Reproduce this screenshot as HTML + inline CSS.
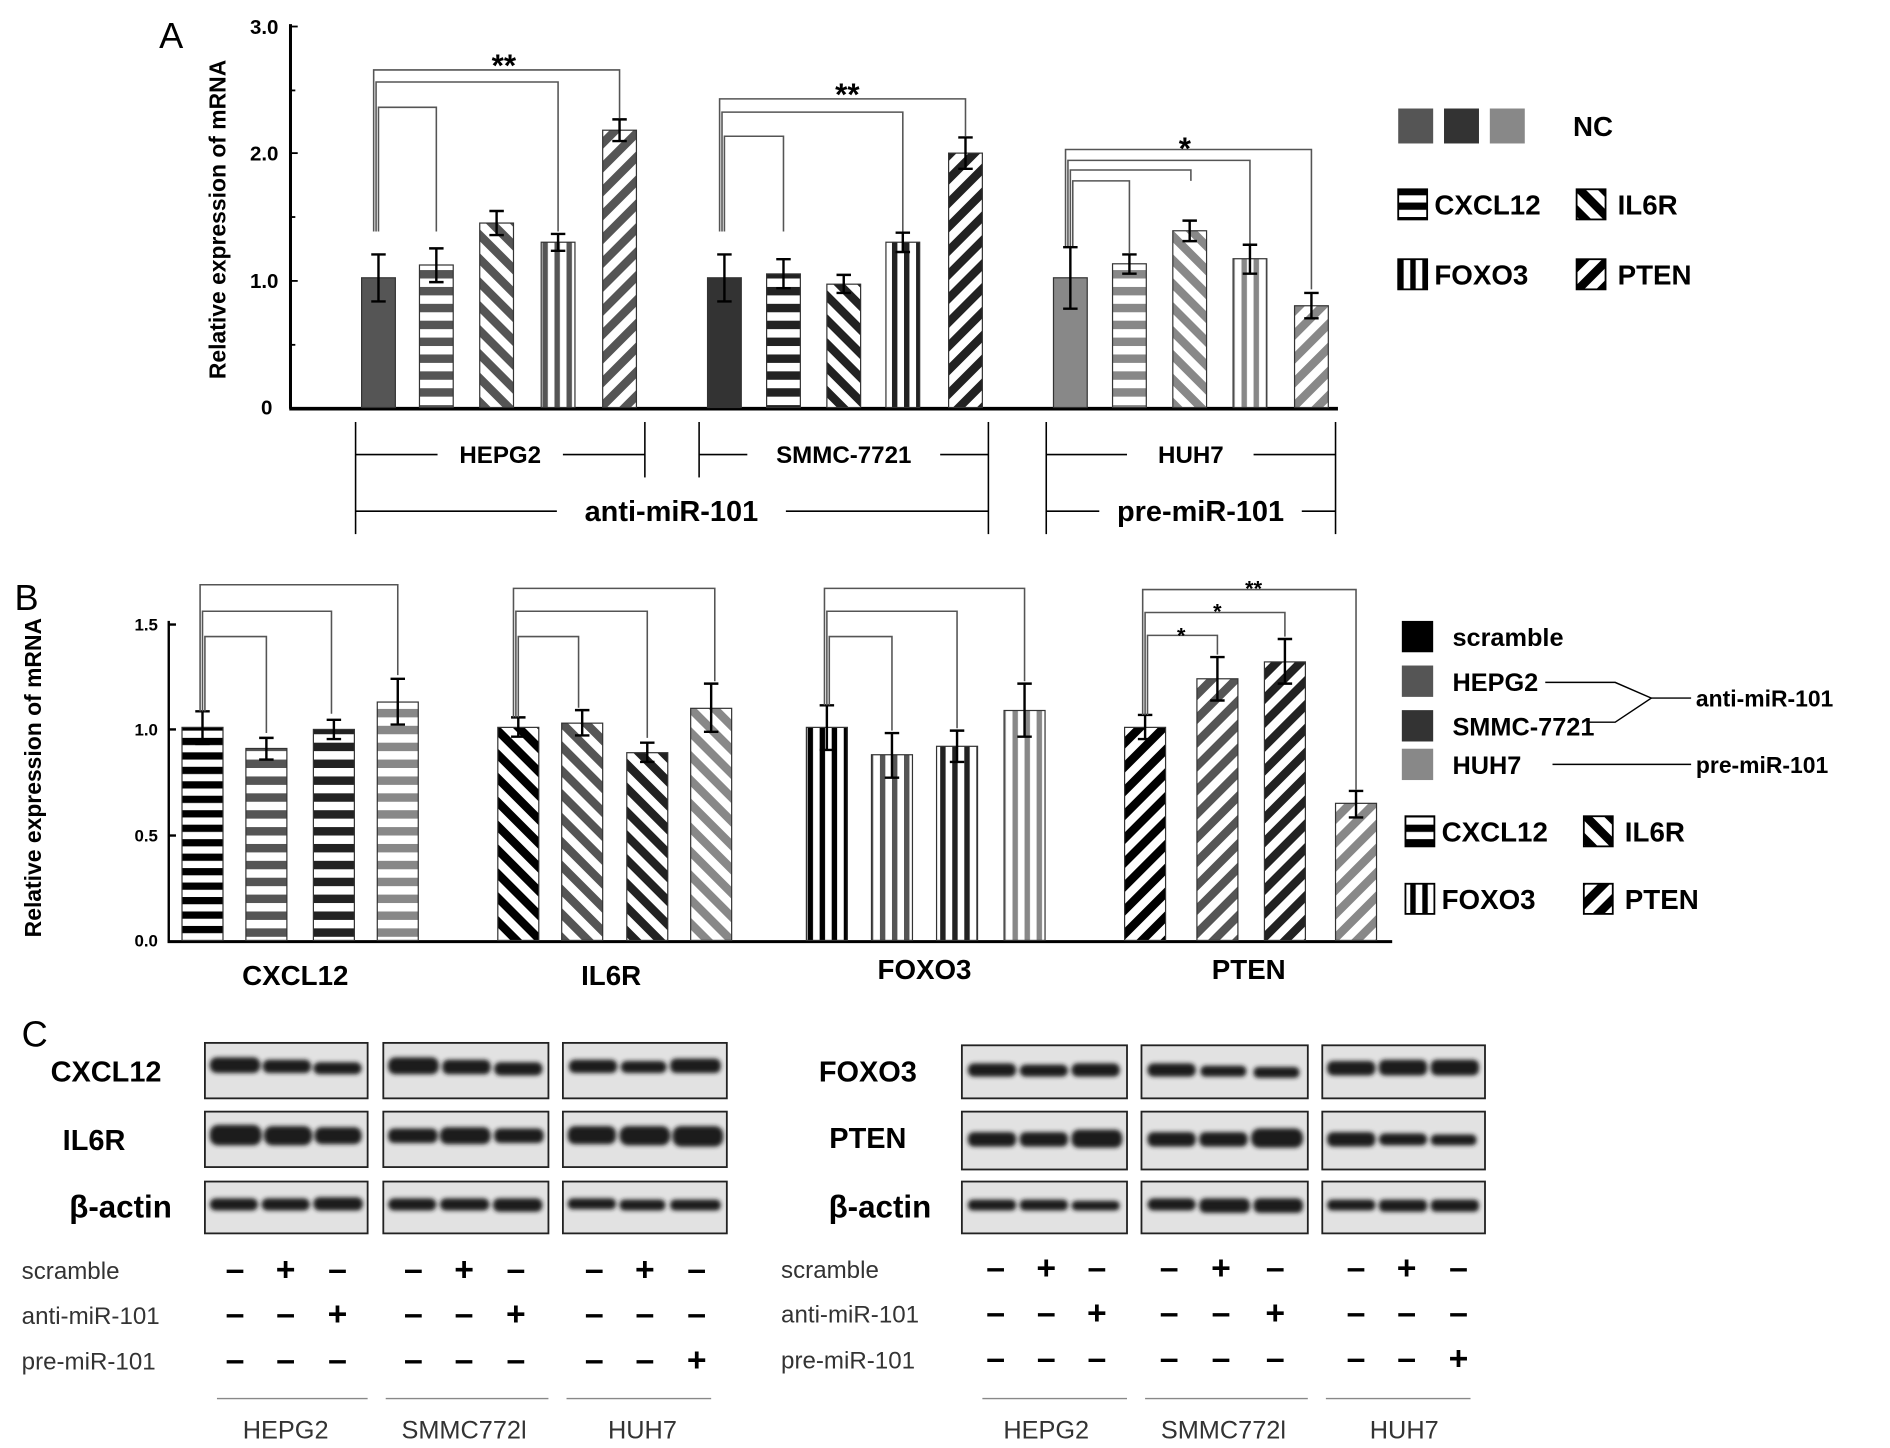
<!DOCTYPE html>
<html><head><meta charset="utf-8"><style>
html,body{margin:0;padding:0;background:#fff}
svg{display:block}
text{font-family:"Liberation Sans",sans-serif}
.b{font-weight:bold}
</style></head><body>
<svg width="1890" height="1448" viewBox="0 0 1568 1201" preserveAspectRatio="none" xmlns="http://www.w3.org/2000/svg">
<defs>
<filter id="bl"><feGaussianBlur stdDeviation="1.8"/></filter>
<pattern id="h1" patternUnits="userSpaceOnUse" width="10" height="14"><rect width="10" height="14" fill="#fff"/><rect width="10" height="7" fill="#555"/></pattern>
<pattern id="h2" patternUnits="userSpaceOnUse" width="10" height="14"><rect width="10" height="14" fill="#fff"/><rect width="10" height="7" fill="#222"/></pattern>
<pattern id="h3" patternUnits="userSpaceOnUse" width="10" height="14"><rect width="10" height="14" fill="#fff"/><rect width="10" height="7" fill="#888"/></pattern>
<pattern id="h0" patternUnits="userSpaceOnUse" width="10" height="12"><rect width="10" height="12" fill="#fff"/><rect width="10" height="6" fill="#000"/></pattern>
<pattern id="v1" patternUnits="userSpaceOnUse" width="10" height="10"><rect width="10" height="10" fill="#fff"/><rect width="4.5" height="10" fill="#555"/></pattern>
<pattern id="v2" patternUnits="userSpaceOnUse" width="10" height="10"><rect width="10" height="10" fill="#fff"/><rect width="4.5" height="10" fill="#222"/></pattern>
<pattern id="v3" patternUnits="userSpaceOnUse" width="10" height="10"><rect width="10" height="10" fill="#fff"/><rect width="4.5" height="10" fill="#888"/></pattern>
<pattern id="v0" patternUnits="userSpaceOnUse" width="10" height="10"><rect width="10" height="10" fill="#fff"/><rect width="4.5" height="10" fill="#000"/></pattern>
<pattern id="k1" patternUnits="userSpaceOnUse" width="14" height="14" patternTransform="rotate(-45)"><rect width="14" height="14" fill="#fff"/><rect width="7" height="14" fill="#555"/></pattern>
<pattern id="k2" patternUnits="userSpaceOnUse" width="14" height="14" patternTransform="rotate(-45)"><rect width="14" height="14" fill="#fff"/><rect width="7" height="14" fill="#222"/></pattern>
<pattern id="k3" patternUnits="userSpaceOnUse" width="14" height="14" patternTransform="rotate(-45)"><rect width="14" height="14" fill="#fff"/><rect width="7" height="14" fill="#888"/></pattern>
<pattern id="k0" patternUnits="userSpaceOnUse" width="14" height="14" patternTransform="rotate(-45)"><rect width="14" height="14" fill="#fff"/><rect width="7" height="14" fill="#000"/></pattern>
<pattern id="s1" patternUnits="userSpaceOnUse" width="14" height="14" patternTransform="rotate(45)"><rect width="14" height="14" fill="#fff"/><rect width="7" height="14" fill="#555"/></pattern>
<pattern id="s2" patternUnits="userSpaceOnUse" width="14" height="14" patternTransform="rotate(45)"><rect width="14" height="14" fill="#fff"/><rect width="7" height="14" fill="#222"/></pattern>
<pattern id="s3" patternUnits="userSpaceOnUse" width="14" height="14" patternTransform="rotate(45)"><rect width="14" height="14" fill="#fff"/><rect width="7" height="14" fill="#888"/></pattern>
<pattern id="s0" patternUnits="userSpaceOnUse" width="14" height="14" patternTransform="rotate(45)"><rect width="14" height="14" fill="#fff"/><rect width="7" height="14" fill="#000"/></pattern>
</defs>

<!-- ===== Panel A ===== -->
<text x="132" y="40" font-size="30">A</text>
<text x="187" y="182" font-size="19" class="b" transform="rotate(-90 187 182)" text-anchor="middle">Relative expression of mRNA</text>
<g font-size="17" class="b" text-anchor="end">
<text x="231" y="28">3.0</text><text x="231" y="133">2.0</text><text x="231" y="239">1.0</text><text x="226" y="344">0</text>
</g>
<g stroke="#000" stroke-width="2.5">
<line x1="241" y1="20" x2="241" y2="339"/><line x1="240" y1="339" x2="1110" y2="339" stroke-width="3"/>
</g>
<g stroke="#000" stroke-width="1.5">
<line x1="241" y1="22" x2="247" y2="22"/><line x1="241" y1="127" x2="247" y2="127"/><line x1="241" y1="233" x2="247" y2="233"/>
<line x1="241" y1="75" x2="245" y2="75"/><line x1="241" y1="180" x2="245" y2="180"/><line x1="241" y1="286" x2="245" y2="286"/>
</g>
<g stroke="#333" stroke-width="1">
<rect x="300" y="230.4" width="28" height="107.6" fill="#555"/>
<rect x="348" y="219.8" width="28" height="118.2" fill="url(#h1)"/>
<rect x="398" y="185" width="28" height="153" fill="url(#k1)"/>
<rect x="449" y="200.9" width="28" height="137.1" fill="url(#v1)"/>
<rect x="500" y="108" width="28" height="230" fill="url(#s1)"/>
<rect x="587" y="230.4" width="28" height="107.6" fill="#333"/>
<rect x="636" y="227.2" width="28" height="110.8" fill="url(#h2)"/>
<rect x="686" y="235.7" width="28" height="102.3" fill="url(#k2)"/>
<rect x="735" y="200.9" width="28" height="137.1" fill="url(#v2)"/>
<rect x="787" y="127" width="28" height="211" fill="url(#s2)"/>
<rect x="874" y="230.4" width="28" height="107.6" fill="#888"/>
<rect x="923" y="218.8" width="28" height="119.2" fill="url(#h3)"/>
<rect x="973" y="191.4" width="28" height="146.6" fill="url(#k3)"/>
<rect x="1023" y="214.6" width="28" height="123.4" fill="url(#v3)"/>
<rect x="1074" y="253.6" width="28" height="84.4" fill="url(#s3)"/>
</g>
<g stroke="#000" stroke-width="2" fill="none">
<path d="M314 211V250M308 211H320M308 250H320"/>
<path d="M362 206V234M356 206H368M356 234H368"/>
<path d="M412 175V195M406 175H418M406 195H418"/>
<path d="M463 194V208M457 194H469M457 208H469"/>
<path d="M514 99V117M508 99H520M508 117H520"/>
<path d="M601 211V250M595 211H607M595 250H607"/>
<path d="M650 215V239M644 215H656M644 239H656"/>
<path d="M700 228V243M694 228H706M694 243H706"/>
<path d="M749 193V209M743 193H755M743 209H755"/>
<path d="M801 114V140M795 114H807M795 140H807"/>
<path d="M888 205V256M882 205H894M882 256H894"/>
<path d="M937 211V227M931 211H943M931 227H943"/>
<path d="M987 183V200M981 183H993M981 200H993"/>
<path d="M1037 203V227M1031 203H1043M1031 227H1043"/>
<path d="M1088 243V264M1082 243H1094M1082 264H1094"/>
</g>
<g stroke="#555" stroke-width="1.3" fill="none">
<path d="M310 192V58H514V98"/><path d="M312 192V68H463V192"/><path d="M314 192V89H362V192"/>
<path d="M597 192V82H801V113"/><path d="M599 192V93H749V192"/><path d="M601 192V113H650V192"/>
<path d="M884 204V124H1088V240"/><path d="M886 204V133H1037V202"/><path d="M888 204V141H988V150"/><path d="M890 204V150H937V210"/>
</g>
<g font-size="26" class="b" text-anchor="middle">
<text x="418" y="63">**</text><text x="703" y="87">**</text><text x="983" y="132">*</text>
</g>
<g stroke="#000" stroke-width="1.3">
<line x1="295" y1="350" x2="295" y2="443"/><line x1="535" y1="350" x2="535" y2="396"/>
<line x1="580" y1="350" x2="580" y2="396"/><line x1="820" y1="350" x2="820" y2="443"/>
<line x1="868" y1="350" x2="868" y2="443"/><line x1="1108" y1="350" x2="1108" y2="443"/>
<line x1="295" y1="377" x2="363" y2="377"/><line x1="467" y1="377" x2="535" y2="377"/>
<line x1="580" y1="377" x2="620" y2="377"/><line x1="780" y1="377" x2="820" y2="377"/>
<line x1="868" y1="377" x2="935" y2="377"/><line x1="1040" y1="377" x2="1108" y2="377"/>
<line x1="295" y1="424" x2="462" y2="424"/><line x1="652" y1="424" x2="820" y2="424"/>
<line x1="868" y1="424" x2="912" y2="424"/><line x1="1080" y1="424" x2="1108" y2="424"/>
</g>
<g font-size="20" class="b" text-anchor="middle">
<text x="415" y="384">HEPG2</text><text x="700" y="384">SMMC-7721</text><text x="988" y="384">HUH7</text>
</g>
<g font-size="24" class="b" text-anchor="middle">
<text x="557" y="432">anti-miR-101</text><text x="996" y="432">pre-miR-101</text>
</g>
<rect x="1160" y="90" width="29" height="29" fill="#555"/><rect x="1198" y="90" width="29" height="29" fill="#333"/><rect x="1236" y="90" width="29" height="29" fill="#888"/>
<text x="1305" y="113" font-size="23" class="b">NC</text>
<g stroke="#000" stroke-width="1.5">
<rect x="1160" y="157" width="24" height="25" fill="url(#h0)"/>
<rect x="1308" y="157" width="24" height="25" fill="url(#k0)"/>
<rect x="1160" y="215" width="24" height="25" fill="url(#v0)"/>
<rect x="1308" y="215" width="24" height="25" fill="url(#s0)"/>
</g>
<g font-size="23" class="b">
<text x="1190" y="178">CXCL12</text><text x="1342" y="178">IL6R</text>
<text x="1190" y="236">FOXO3</text><text x="1342" y="236">PTEN</text>
</g>

<!-- ===== Panel B ===== -->
<text x="12" y="506" font-size="30">B</text>
<text x="34" y="645" font-size="19" class="b" transform="rotate(-90 34 645)" text-anchor="middle">Relative expression of mRNA</text>
<g font-size="14" class="b" text-anchor="end">
<text x="131" y="523">1.5</text><text x="131" y="610">1.0</text><text x="131" y="698">0.5</text><text x="131" y="785">0.0</text>
</g>
<g stroke="#000" stroke-width="2">
<line x1="140" y1="515" x2="140" y2="781"/><line x1="139" y1="781" x2="1155" y2="781" stroke-width="2.5"/>
<line x1="140" y1="518" x2="146" y2="518"/><line x1="140" y1="605" x2="146" y2="605"/><line x1="140" y1="693" x2="146" y2="693"/>
</g>
<g stroke="#333" stroke-width="1">
<rect x="151" y="603.3" width="34" height="176.7" fill="url(#h0)"/>
<rect x="204" y="620.8" width="34" height="159.2" fill="url(#h1)"/>
<rect x="260" y="605" width="34" height="175" fill="url(#h2)"/>
<rect x="313" y="582.3" width="34" height="197.7" fill="url(#h3)"/>
<rect x="413" y="603.3" width="34" height="176.7" fill="url(#k0)"/>
<rect x="466" y="599.8" width="34" height="180.2" fill="url(#k1)"/>
<rect x="520" y="624.3" width="34" height="155.7" fill="url(#k2)"/>
<rect x="573" y="587.5" width="34" height="192.5" fill="url(#k3)"/>
<rect x="669" y="603.3" width="34" height="176.7" fill="url(#v0)"/>
<rect x="723" y="626" width="34" height="154" fill="url(#v1)"/>
<rect x="777" y="619" width="34" height="161" fill="url(#v2)"/>
<rect x="833" y="589.3" width="34" height="190.7" fill="url(#v3)"/>
<rect x="933" y="603.3" width="34" height="176.7" fill="url(#s0)"/>
<rect x="993" y="563" width="34" height="217" fill="url(#s1)"/>
<rect x="1049" y="549" width="34" height="231" fill="url(#s2)"/>
<rect x="1108" y="666.3" width="34" height="113.7" fill="url(#s3)"/>
</g>
<g stroke="#000" stroke-width="2" fill="none">
<path d="M168 590V617M162 590H174M162 617H174"/>
<path d="M221 612V630M215 612H227M215 630H227"/>
<path d="M277 597V613M271 597H283M271 613H283"/>
<path d="M330 563V601M324 563H336M324 601H336"/>
<path d="M430 595V611M424 595H436M424 611H436"/>
<path d="M483 589V610M477 589H489M477 610H489"/>
<path d="M537 616V632M531 616H543M531 632H543"/>
<path d="M590 567V607M584 567H596M584 607H596"/>
<path d="M686 585V622M680 585H692M680 622H692"/>
<path d="M740 608V645M734 608H746M734 645H746"/>
<path d="M794 606V632M788 606H800M788 632H800"/>
<path d="M850 567V611M844 567H856M844 611H856"/>
<path d="M950 593V613M944 593H956M944 613H956"/>
<path d="M1010 545V581M1004 545H1016M1004 581H1016"/>
<path d="M1066 530V567M1060 530H1072M1060 567H1072"/>
<path d="M1125 656V678M1119 656H1131M1119 678H1131"/>
</g>
<g stroke="#555" stroke-width="1.3" fill="none">
<path d="M166 590V485H330V560"/><path d="M168 590V507H275V592"/><path d="M170 590V528H221V608"/>
<path d="M426 595V488H593V565"/><path d="M428 595V507H537V612"/><path d="M430 595V528H480V587"/>
<path d="M684 585V488H850V565"/><path d="M686 585V507H794V604"/><path d="M688 585V528H740V606"/>
<path d="M948 593V489H1125V655"/><path d="M950 593V508H1066V528"/><path d="M952 593V527H1010V543"/>
</g>
<g font-size="18" class="b" text-anchor="middle">
<text x="1040" y="494">**</text><text x="1010" y="513">*</text><text x="980" y="533">*</text>
</g>
<g font-size="23" class="b" text-anchor="middle">
<text x="245" y="817">CXCL12</text><text x="507" y="817">IL6R</text><text x="767" y="812">FOXO3</text><text x="1036" y="812">PTEN</text>
</g>
<rect x="1163" y="515" width="26" height="26" fill="#000"/>
<rect x="1163" y="552" width="26" height="26" fill="#555"/>
<rect x="1163" y="589" width="26" height="26" fill="#333"/>
<rect x="1163" y="621" width="26" height="26" fill="#888"/>
<g font-size="21" class="b">
<text x="1205" y="536">scramble</text><text x="1205" y="573">HEPG2</text><text x="1205" y="610">SMMC-7721</text><text x="1205" y="642">HUH7</text>
<text x="1407" y="586" font-size="19">anti-miR-101</text><text x="1407" y="641" font-size="19">pre-miR-101</text>
</g>
<g stroke="#000" stroke-width="1.2" fill="none">
<path d="M1282 566H1340L1370 579L1340 599H1318"/><path d="M1370 579H1403"/>
<path d="M1288 634H1403"/>
</g>
<g stroke="#000" stroke-width="1.5">
<rect x="1166" y="677" width="24" height="25" fill="url(#h0)"/>
<rect x="1314" y="677" width="24" height="25" fill="url(#k0)"/>
<rect x="1166" y="733" width="24" height="25" fill="url(#v0)"/>
<rect x="1314" y="733" width="24" height="25" fill="url(#s0)"/>
</g>
<g font-size="23" class="b">
<text x="1196" y="698">CXCL12</text><text x="1348" y="698">IL6R</text>
<text x="1196" y="754">FOXO3</text><text x="1348" y="754">PTEN</text>
</g>

<!-- ===== Panel C ===== -->
<text x="18" y="868" font-size="30">C</text>
<g font-size="24" class="b" text-anchor="middle">
<text x="88" y="897">CXCL12</text><text x="78" y="954">IL6R</text><text x="100" y="1010" font-size="26">β-actin</text>
<text x="720" y="897">FOXO3</text><text x="720" y="952">PTEN</text><text x="730" y="1010" font-size="26">β-actin</text>
</g>
<g fill="#e2e2e2" stroke="#222" stroke-width="1.5">
<rect x="170" y="865" width="135" height="46"/><rect x="318" y="865" width="137" height="46"/><rect x="467" y="865" width="136" height="46"/>
<rect x="170" y="922" width="135" height="46"/><rect x="318" y="922" width="137" height="46"/><rect x="467" y="922" width="136" height="46"/>
<rect x="170" y="980" width="135" height="43"/><rect x="318" y="980" width="137" height="43"/><rect x="467" y="980" width="136" height="43"/>
<rect x="798" y="867" width="137" height="44"/><rect x="947" y="867" width="138" height="44"/><rect x="1097" y="867" width="135" height="44"/>
<rect x="798" y="922" width="137" height="48"/><rect x="947" y="922" width="138" height="48"/><rect x="1097" y="922" width="135" height="48"/>
<rect x="798" y="980" width="137" height="43"/><rect x="947" y="980" width="138" height="43"/><rect x="1097" y="980" width="135" height="43"/>
</g>
<g fill="#1e1e1e" filter="url(#bl)">
<rect x="174" y="877" width="42" height="13" rx="6"/><rect x="218" y="879" width="40" height="11" rx="5"/><rect x="260" y="881" width="40" height="10" rx="5"/>
<rect x="322" y="877" width="42" height="14" rx="6"/><rect x="367" y="879" width="40" height="12" rx="5"/><rect x="410" y="881" width="40" height="11" rx="5"/>
<rect x="472" y="879" width="40" height="11" rx="5"/><rect x="515" y="880" width="38" height="10" rx="5"/><rect x="556" y="878" width="42" height="12" rx="5"/>
<rect x="174" y="933" width="43" height="17" rx="7"/><rect x="219" y="934" width="40" height="16" rx="7"/><rect x="261" y="935" width="39" height="14" rx="6"/>
<rect x="322" y="936" width="41" height="12" rx="5"/><rect x="365" y="935" width="42" height="14" rx="6"/><rect x="410" y="936" width="41" height="12" rx="5"/>
<rect x="471" y="934" width="40" height="15" rx="6"/><rect x="514" y="934" width="42" height="16" rx="7"/><rect x="558" y="934" width="42" height="17" rx="7"/>
<rect x="174" y="994" width="40" height="10" rx="5"/><rect x="217" y="994" width="40" height="10" rx="5"/><rect x="260" y="993" width="41" height="11" rx="5"/>
<rect x="322" y="994" width="40" height="10" rx="5"/><rect x="365" y="994" width="41" height="10" rx="5"/><rect x="409" y="994" width="41" height="11" rx="5"/>
<rect x="471" y="994" width="40" height="9" rx="4"/><rect x="514" y="995" width="38" height="9" rx="4"/><rect x="556" y="995" width="42" height="9" rx="4"/>
<rect x="803" y="882" width="40" height="11" rx="5"/><rect x="846" y="883" width="40" height="10" rx="5"/><rect x="889" y="882" width="40" height="11" rx="5"/>
<rect x="952" y="882" width="40" height="11" rx="5"/><rect x="996" y="884" width="38" height="9" rx="4"/><rect x="1040" y="885" width="38" height="9" rx="4"/>
<rect x="1101" y="880" width="40" height="12" rx="5"/><rect x="1144" y="879" width="40" height="13" rx="5"/><rect x="1187" y="879" width="40" height="13" rx="5"/>
<rect x="803" y="939" width="40" height="12" rx="5"/><rect x="846" y="939" width="40" height="12" rx="5"/><rect x="889" y="937" width="42" height="15" rx="6"/>
<rect x="952" y="939" width="40" height="12" rx="5"/><rect x="995" y="939" width="40" height="12" rx="5"/><rect x="1038" y="936" width="43" height="16" rx="7"/>
<rect x="1101" y="939" width="40" height="12" rx="5"/><rect x="1144" y="940" width="40" height="10" rx="5"/><rect x="1187" y="941" width="38" height="9" rx="4"/>
<rect x="803" y="995" width="40" height="9" rx="4"/><rect x="846" y="995" width="40" height="9" rx="4"/><rect x="889" y="996" width="40" height="8" rx="4"/>
<rect x="952" y="994" width="40" height="10" rx="5"/><rect x="995" y="994" width="42" height="12" rx="5"/><rect x="1040" y="994" width="41" height="12" rx="5"/>
<rect x="1101" y="995" width="40" height="9" rx="4"/><rect x="1144" y="995" width="40" height="10" rx="4"/><rect x="1187" y="995" width="40" height="10" rx="4"/>
</g>
<g font-size="20" fill="#333">
<text x="18" y="1061">scramble</text><text x="18" y="1098">anti-miR-101</text><text x="18" y="1136">pre-miR-101</text>
<text x="648" y="1060">scramble</text><text x="648" y="1097">anti-miR-101</text><text x="648" y="1135">pre-miR-101</text>
</g>
<g font-size="28" class="b" text-anchor="middle">
<text x="195" y="1062">–</text><text x="237" y="1062">+</text><text x="280" y="1062">–</text>
<text x="343" y="1062">–</text><text x="385" y="1062">+</text><text x="428" y="1062">–</text>
<text x="493" y="1062">–</text><text x="535" y="1062">+</text><text x="578" y="1062">–</text>
<text x="195" y="1099">–</text><text x="237" y="1099">–</text><text x="280" y="1099">+</text>
<text x="343" y="1099">–</text><text x="385" y="1099">–</text><text x="428" y="1099">+</text>
<text x="493" y="1099">–</text><text x="535" y="1099">–</text><text x="578" y="1099">–</text>
<text x="195" y="1137">–</text><text x="237" y="1137">–</text><text x="280" y="1137">–</text>
<text x="343" y="1137">–</text><text x="385" y="1137">–</text><text x="428" y="1137">–</text>
<text x="493" y="1137">–</text><text x="535" y="1137">–</text><text x="578" y="1137">+</text>
<text x="826" y="1061">–</text><text x="868" y="1061">+</text><text x="910" y="1061">–</text>
<text x="970" y="1061">–</text><text x="1013" y="1061">+</text><text x="1058" y="1061">–</text>
<text x="1125" y="1061">–</text><text x="1167" y="1061">+</text><text x="1210" y="1061">–</text>
<text x="826" y="1098">–</text><text x="868" y="1098">–</text><text x="910" y="1098">+</text>
<text x="970" y="1098">–</text><text x="1013" y="1098">–</text><text x="1058" y="1098">+</text>
<text x="1125" y="1098">–</text><text x="1167" y="1098">–</text><text x="1210" y="1098">–</text>
<text x="826" y="1136">–</text><text x="868" y="1136">–</text><text x="910" y="1136">–</text>
<text x="970" y="1136">–</text><text x="1013" y="1136">–</text><text x="1058" y="1136">–</text>
<text x="1125" y="1136">–</text><text x="1167" y="1136">–</text><text x="1210" y="1136">+</text>
</g>
<g stroke="#888" stroke-width="1.2">
<line x1="180" y1="1160" x2="305" y2="1160"/><line x1="320" y1="1160" x2="455" y2="1160"/><line x1="470" y1="1160" x2="590" y2="1160"/>
<line x1="815" y1="1160" x2="935" y2="1160"/><line x1="950" y1="1160" x2="1085" y2="1160"/><line x1="1100" y1="1160" x2="1220" y2="1160"/>
</g>
<g font-size="21" fill="#333" text-anchor="middle">
<text x="237" y="1193">HEPG2</text><text x="385" y="1193">SMMC772l</text><text x="533" y="1193">HUH7</text>
<text x="868" y="1193">HEPG2</text><text x="1015" y="1193">SMMC772l</text><text x="1165" y="1193">HUH7</text>
</g>
</svg>
</body></html>
